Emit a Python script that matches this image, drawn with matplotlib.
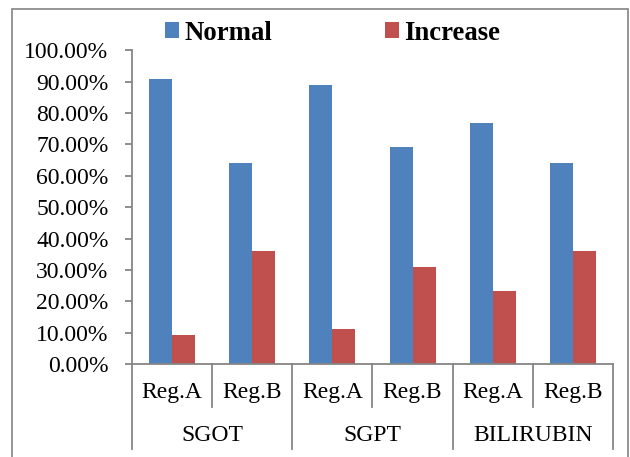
import matplotlib
matplotlib.use("Agg")
import matplotlib.pyplot as plt
from matplotlib.patches import Rectangle
from matplotlib.ticker import FuncFormatter
import matplotlib.transforms as mtransforms

plt.rcParams['font.family'] = ['Liberation Serif', 'DejaVu Serif']

# Data (percent)
groups = ["SGOT", "SGPT", "BILIRUBIN"]
regimens = ["Reg.A", "Reg.B"]
normal = [90.9, 64.1, 88.9, 69.2, 76.7, 64.1]
increase = [9.1, 35.9, 11.1, 30.8, 23.3, 35.9]
series_names = ["Normal", "Increase"]
colors = ["#4F81BD", "#C0504D"]

W, H = 630, 457
fig = plt.figure(figsize=(W / 100, H / 100), dpi=100)

ax = fig.add_axes([132 / W, 1 - 364 / H, (613 - 132) / W, (364 - 50.3) / H])

n = len(normal)
xs = list(range(n))
bw = 0.2875
b1 = ax.bar([x - bw / 2 for x in xs], normal, width=bw, color=colors[0], label=series_names[0])
b2 = ax.bar([x + bw / 2 for x in xs], increase, width=bw, color=colors[1], label=series_names[1])

ax.set_xlim(-0.5, n - 0.5)
ax.set_ylim(0, 100)
ax.set_yticks(range(0, 101, 10))
ax.yaxis.set_major_formatter(FuncFormatter(lambda v, p: f"{v:.2f}%"))

axis_col = "#868686"
for s in ["top", "right"]:
    ax.spines[s].set_visible(False)
for s in ["left", "bottom"]:
    ax.spines[s].set_color(axis_col)
    ax.spines[s].set_linewidth(1.3)
ax.tick_params(axis="y", direction="out", length=5, width=1.3, color=axis_col,
               labelsize=17, pad=12, labelcolor="black")
ax.tick_params(axis="x", length=0, labelbottom=False)

# Multi-level category axis
trans = mtransforms.blended_transform_factory(ax.transData, ax.transAxes)
sub_labels = regimens * len(groups)
for x, lab in zip(xs, sub_labels):
    ax.text(x, -0.0924, lab, transform=trans, ha="center", va="center", fontsize=17)
for gi, g in enumerate(groups):
    ax.text(gi * 2 + 0.5, -0.2295, g, transform=trans, ha="center", va="center", fontsize=17)
for gi in range(len(groups)):
    ax.plot([gi * 2 + 0.5] * 2, [0, -0.137], transform=trans, color=axis_col, lw=1.3, clip_on=False)
for gi in range(len(groups) + 1):
    ax.plot([gi * 2 - 0.5] * 2, [0, -0.271], transform=trans, color=axis_col, lw=1.3, clip_on=False)

# Legend
fig.legend(handles=[b1, b2], labels=series_names, loc="center left",
           bbox_to_anchor=(165 / W, 1 - 33 / H), ncol=2, frameon=False,
           prop={"weight": "bold", "size": 19.3}, handlelength=0.52, handleheight=0.52,
           handletextpad=0.2, columnspacing=4.2, borderpad=0, borderaxespad=0)

# Chart area border
fig.patches.append(Rectangle((12 / W, -0.05), (628 - 12) / W, 1.05 - 9 / H,
                             transform=fig.transFigure, fill=False,
                             edgecolor="#8c8c8c", lw=1.3))

fig.savefig("out.png", dpi=100)
